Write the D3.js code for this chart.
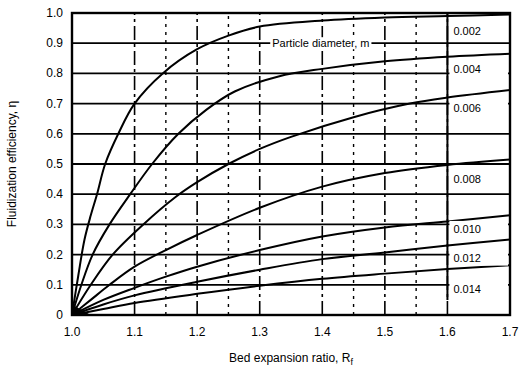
<!DOCTYPE html>
<html><head><meta charset="utf-8">
<script src="https://cdn.jsdelivr.net/npm/d3@7"></script>
<style>
body{margin:0;background:#fff;}
text{font-family:"Liberation Sans",Arial,sans-serif;fill:#000;}
</style></head>
<body><svg id="c" width="529" height="376"></svg>
<script>
const xTicks = [1.0,1.1,1.2,1.3,1.4,1.5,1.6,1.7];
const xTickLabels = ["1.0","1.1","1.2","1.3","1.4","1.5","1.6","1.7"];
const yTicks = [0,0.1,0.2,0.3,0.4,0.5,0.6,0.7,0.8,0.9,1.0];
const yTickLabels = ["0","0.1","0.2","0.3","0.4","0.5","0.6","0.7","0.8","0.9","1.0"];
const minorX = [1.15,1.25,1.45,1.55];
const diameters = ["0.002","0.004","0.006","0.008","0.010","0.012","0.014"];
const c002 = [[1.0,0],[1.01,0.13],[1.02,0.25],[1.03,0.33],[1.04,0.4],[1.053,0.5],[1.074,0.6],[1.1,0.7],[1.145,0.8],[1.2,0.88],[1.25,0.925],[1.3,0.955],[1.4,0.975],[1.5,0.985],[1.6,0.99],[1.7,0.995]];
const c004 = [[1.0,0],[1.015,0.1],[1.033,0.2],[1.06,0.3],[1.093,0.4],[1.128,0.5],[1.17,0.6],[1.215,0.68],[1.26,0.74],[1.33,0.79],[1.4,0.815],[1.5,0.84],[1.6,0.855],[1.7,0.865]];
const c006 = [[1.0,0],[1.03,0.1],[1.065,0.2],[1.114,0.3],[1.165,0.39],[1.2,0.44],[1.25,0.5],[1.3,0.55],[1.35,0.59],[1.45,0.655],[1.54,0.7],[1.6,0.72],[1.7,0.745]];
const c008 = [[1.0,0],[1.03,0.05],[1.06,0.1],[1.1,0.16],[1.15,0.215],[1.2,0.265],[1.3,0.355],[1.4,0.425],[1.5,0.47],[1.6,0.497],[1.7,0.515]];
const c010 = [[1.0,0],[1.05,0.05],[1.1,0.09],[1.15,0.127],[1.2,0.16],[1.3,0.215],[1.4,0.26],[1.5,0.29],[1.6,0.31],[1.7,0.33]];
const c012 = [[1.0,0],[1.05,0.035],[1.1,0.065],[1.2,0.11],[1.3,0.15],[1.4,0.185],[1.5,0.207],[1.6,0.23],[1.7,0.25]];
const c014 = [[1.0,0],[1.05,0.02],[1.1,0.04],[1.2,0.07],[1.3,0.097],[1.4,0.12],[1.5,0.137],[1.6,0.152],[1.7,0.165]];
const curves = [c002,c004,c006,c008,c010,c012,c014];
// label vertical positions (value coordinate of label centre)
const labelY = [0.94,0.815,0.685,0.45,0.285,0.19,0.085];

const svg = d3.select("#c");
const x = d3.scaleLinear().domain([1.0,1.7]).range([72,510]);
const y = d3.scaleLinear().domain([0,1.0]).range([315,13]);

// vertical grid
svg.append("g").selectAll("line").data(xTicks.slice(1,-1)).join("line")
  .attr("x1",d=>x(d)).attr("x2",d=>x(d)).attr("y1",y(0)).attr("y2",y(1))
  .attr("stroke","#000").attr("stroke-width",1.6).attr("stroke-dasharray","14,4,3,4");
svg.append("g").selectAll("line").data(minorX).join("line")
  .attr("x1",d=>x(d)).attr("x2",d=>x(d)).attr("y1",y(0)).attr("y2",y(1))
  .attr("stroke","#000").attr("stroke-width",1.4).attr("stroke-dasharray","3,5");
// horizontal grid
svg.append("g").selectAll("line").data(yTicks.slice(1,-1)).join("line")
  .attr("x1",x(1.0)).attr("x2",x(1.7)).attr("y1",d=>y(d)).attr("y2",d=>y(d))
  .attr("stroke","#000").attr("stroke-width",1.8);

// curves
const line = d3.line().x(d=>x(d[0])).y(d=>y(d[1])).curve(d3.curveCatmullRom.alpha(0.5));
svg.append("g").selectAll("path").data(curves).join("path")
  .attr("d",line).attr("fill","none").attr("stroke","#000").attr("stroke-width",2);

// corner blob near origin
svg.append("path")
  .attr("d",`M${x(1.0)},${y(0)} L${x(1.0)},${y(0.035)} L${x(1.03)},${y(0)} Z`)
  .attr("fill","#000");

// frame
svg.append("rect").attr("x",x(1.0)).attr("y",y(1)).attr("width",x(1.7)-x(1.0)).attr("height",y(0)-y(1))
  .attr("fill","none").attr("stroke","#000").attr("stroke-width",2.4);

// legend column
svg.append("line").attr("x1",x(1.6)).attr("x2",x(1.6)).attr("y1",y(1)).attr("y2",y(0.05))
  .attr("stroke","#000").attr("stroke-width",2);
const lg = svg.append("g").selectAll("g").data(diameters).join("g");
lg.append("rect").attr("x",x(1.6)+2).attr("width",x(1.7)-x(1.6)-4)
  .attr("y",(d,i)=>y(labelY[i])-8).attr("height",16).attr("fill","#fff");
lg.append("text").attr("x",x(1.6)+6).attr("y",(d,i)=>y(labelY[i])+4)
  .attr("font-size",11).text(d=>d);

// particle diameter title
const pg = svg.append("g");
const prect = pg.append("rect").attr("fill","#fff");
const ptxt = pg.append("text").attr("x",x(1.32)).attr("y",y(0.9)+4).attr("font-size",11)
  .text("Particle diameter, m");
const bb = ptxt.node().getBBox();
prect.attr("x",bb.x-2).attr("y",bb.y).attr("width",bb.width+4).attr("height",bb.height);

// tick labels
svg.append("g").selectAll("text").data(yTicks).join("text")
  .attr("x",63).attr("y",d=>y(d)+4).attr("text-anchor","end").attr("font-size",12)
  .text((d,i)=>yTickLabels[i]);
svg.append("g").selectAll("text").data(xTicks).join("text")
  .attr("x",d=>x(d)).attr("y",336).attr("text-anchor","middle").attr("font-size",12)
  .text((d,i)=>xTickLabels[i]);

// axis titles
const xt = svg.append("text").attr("x",x(1.35)).attr("y",362).attr("text-anchor","middle").attr("font-size",12);
xt.append("tspan").text("Bed expansion ratio, R");
xt.append("tspan").attr("font-size",9).attr("dy",3).text("f");
svg.append("text").attr("transform",`translate(16,${y(0.5)}) rotate(-90)`).attr("text-anchor","middle")
  .attr("font-size",12).text("Fluidization efficiency, η");
</script></body></html>
